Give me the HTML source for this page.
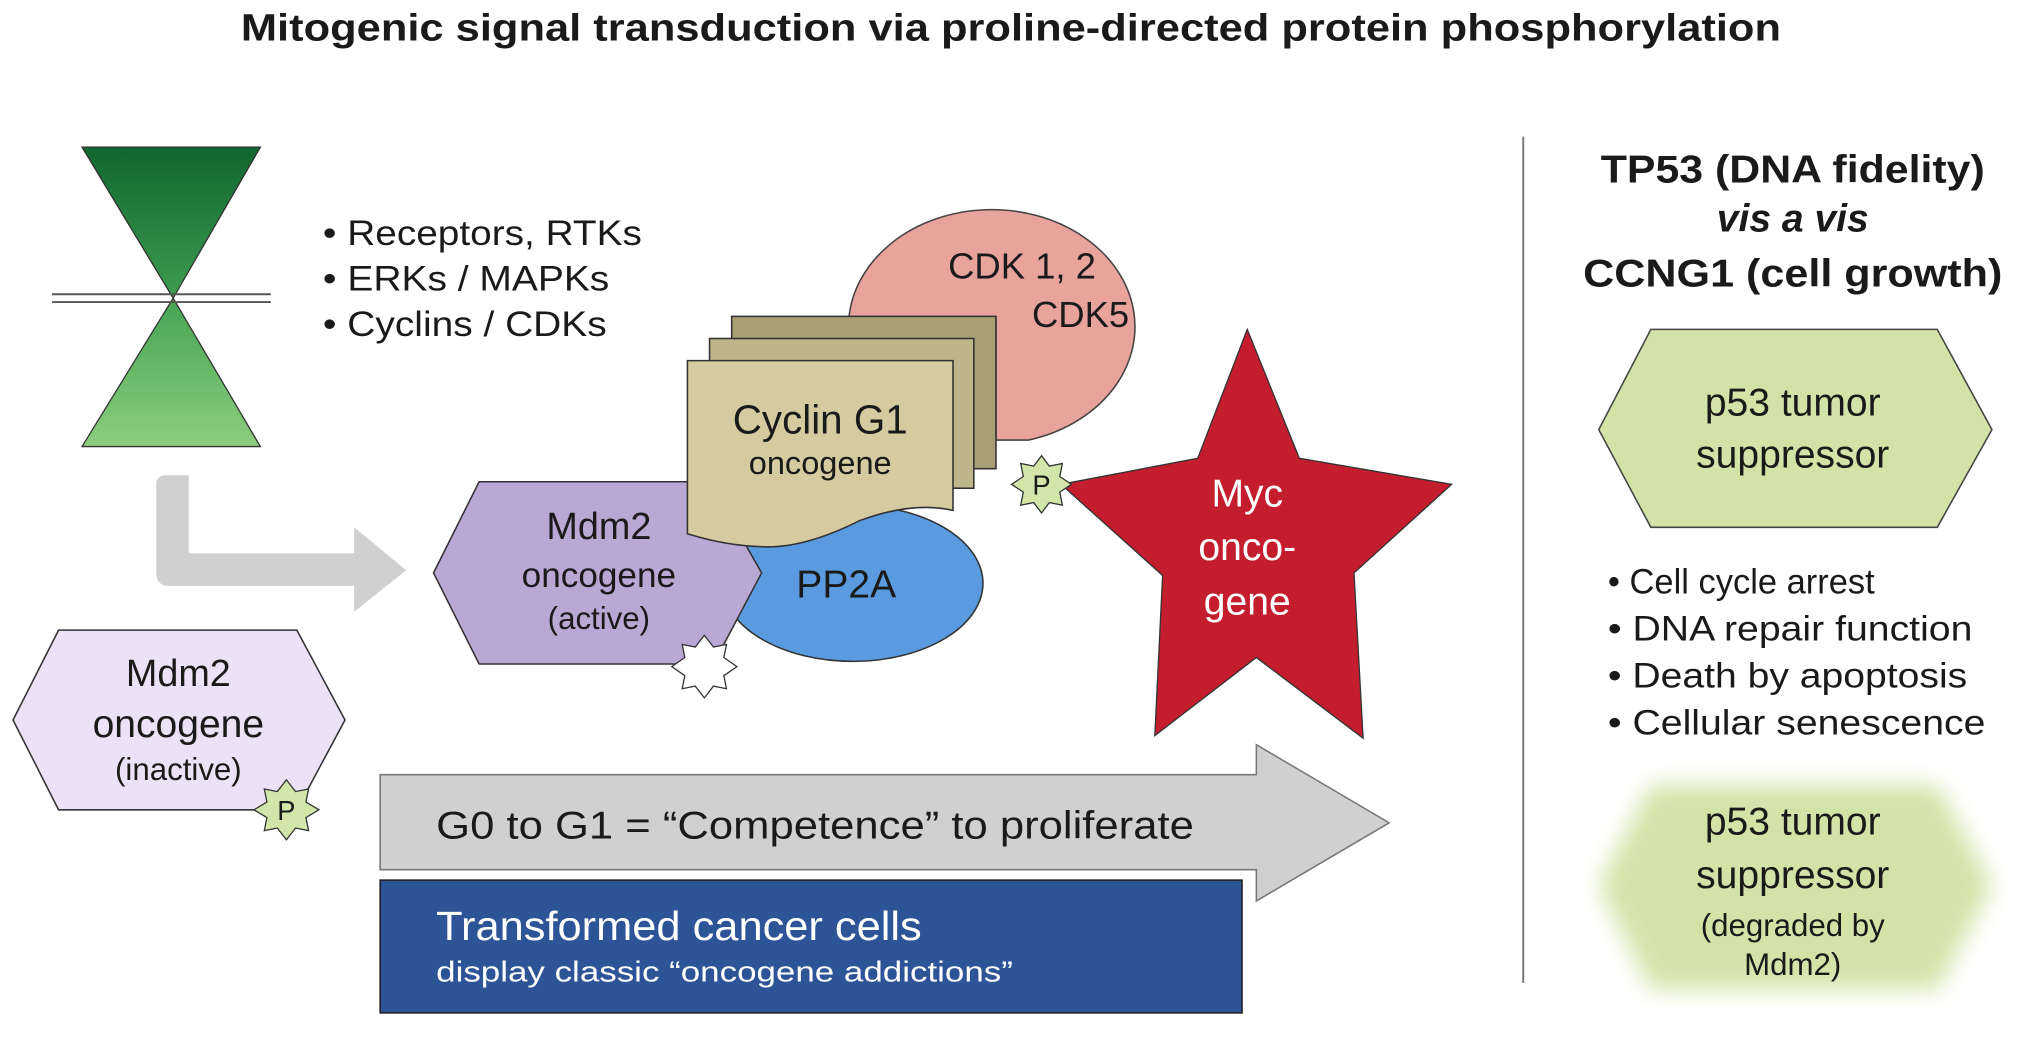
<!DOCTYPE html>
<html><head><meta charset="utf-8"><style>
html,body{margin:0;padding:0;background:#fff}
svg{display:block}
text{font-family:"Liberation Sans",Arial,sans-serif;fill:#1a1a1a}
</style></head><body>
<svg width="2031" height="1037" viewBox="0 0 1560 796.5" preserveAspectRatio="none" xmlns="http://www.w3.org/2000/svg">
<defs>
<linearGradient id="g1" x1="0" y1="0" x2="0" y2="1"><stop offset="0" stop-color="#0f6630"/><stop offset="1" stop-color="#3e9c4f"/></linearGradient>
<linearGradient id="g2" x1="0" y1="0" x2="0" y2="1"><stop offset="0" stop-color="#45a553"/><stop offset="1" stop-color="#8ccd7e"/></linearGradient>
<filter id="blur" x="-20%" y="-20%" width="140%" height="140%"><feGaussianBlur stdDeviation="9"/></filter>
</defs>
<text x="185" y="31" font-size="29" font-weight="bold" textLength="1183" lengthAdjust="spacingAndGlyphs">Mitogenic signal transduction via proline-directed protein phosphorylation</text>

<polygon points="63,113 200,113 133,229" fill="url(#g1)" stroke="#333" stroke-width="1"/>
<polygon points="133,229 200,343 63,343" fill="url(#g2)" stroke="#333" stroke-width="1"/>
<line x1="40" y1="226" x2="208" y2="226" stroke="#555" stroke-width="1.5"/>
<line x1="40" y1="232" x2="208" y2="232" stroke="#555" stroke-width="1.5"/>

<g font-size="27"><text x="248" y="188" textLength="245" lengthAdjust="spacingAndGlyphs">• Receptors, RTKs</text><text x="248" y="223" textLength="220" lengthAdjust="spacingAndGlyphs">• ERKs / MAPKs</text><text x="248" y="258" textLength="218" lengthAdjust="spacingAndGlyphs">• Cyclins / CDKs</text></g>

<path d="M120,372 Q120,365 128,365 L145,365 L145,425 L272,425 L272,405 L312,438 L272,470 L272,450 L130,450 Q120,450 120,440 Z" fill="#d0d0d0"/>

<path d="M652,245 A110,90 0 1 1 790,338 L765,338 L765,245 Z" fill="#e8a39d" stroke="#444" stroke-width="1.2"/>
<text x="785" y="214" font-size="28" text-anchor="middle">CDK 1, 2</text>
<text x="830" y="251" font-size="28" text-anchor="middle">CDK5</text>

<ellipse cx="655" cy="448" rx="100" ry="60" fill="#5a9be0" stroke="#333" stroke-width="1.2"/>
<text x="650" y="459" font-size="30" text-anchor="middle">PP2A</text>

<polygon points="333,440 368,370 545,370 585,440 548,510 368,510" fill="#b9a7d4" stroke="#333" stroke-width="1.2"/>
<text x="460" y="414" font-size="29" text-anchor="middle">Mdm2</text>
<text x="460" y="451" font-size="27" text-anchor="middle">oncogene</text>
<text x="460" y="483" font-size="24" text-anchor="middle">(active)</text>
<polygon points="541,488 548,497 558,495 556,505 566,512 556,519 558,529 548,527 541,536 534,527 524,529 526,519 516,512 526,505 524,495 534,497" fill="#fff" stroke="#333" stroke-width="1"/>

<rect x="562" y="243" width="203" height="117" fill="#a89f74" stroke="#333" stroke-width="1.2"/>
<rect x="545" y="260" width="203" height="115" fill="#bfb58b" stroke="#333" stroke-width="1.2"/>
<path d="M528,277 L732,277 L732,392 Q700,385 660,400 Q620,420 590,420 Q560,420 528,410 Z" fill="#d5caa0" stroke="#333" stroke-width="1.2"/>
<text x="630" y="333" font-size="31" text-anchor="middle">Cyclin G1</text>
<text x="630" y="364" font-size="25" text-anchor="middle">oncogene</text>

<polygon points="958,253 998,352 1115,372 1040,440 1047,567 965,505 887,565 893,442 815,372 920,352" fill="#c41e2e" stroke="#333" stroke-width="1"/>
<text x="958" y="389" font-size="30" text-anchor="middle" style="fill:#fff">Myc</text>
<text x="958" y="430" font-size="30" text-anchor="middle" style="fill:#fff">onco-</text>
<text x="958" y="472" font-size="30" text-anchor="middle" style="fill:#fff">gene</text>

<polygon points="800,350 806,358 816,356 814,366 823,372 814,378 816,388 806,386 800,394 794,386 784,388 786,378 777,372 786,366 784,356 794,358" fill="#d3e6a9" stroke="#333" stroke-width="1"/>
<text x="800" y="380" font-size="21" text-anchor="middle">P</text>

<polygon points="10,553 45,484 228,484 265,553 228,622 45,622" fill="#ece2f7" stroke="#333" stroke-width="1.2"/>
<text x="137" y="527" font-size="29" text-anchor="middle">Mdm2</text>
<text x="137" y="566" font-size="30" text-anchor="middle">oncogene</text>
<text x="137" y="599" font-size="24" text-anchor="middle">(inactive)</text>
<polygon points="220,599 227,608 237,606 235,616 245,622 235,628 237,638 227,636 220,645 213,636 203,638 205,628 195,622 205,616 203,606 213,608" fill="#d3e6a9" stroke="#333" stroke-width="1"/>
<text x="220" y="630" font-size="21" text-anchor="middle">P</text>

<polygon points="292,595 965,595 965,572 1067,632 965,692 965,668 292,668" fill="#d0d0d0" stroke="#777" stroke-width="1.2"/>
<text x="335" y="644" font-size="30" textLength="582" lengthAdjust="spacingAndGlyphs">G0 to G1 = “Competence” to proliferate</text>

<rect x="292" y="676" width="662" height="102" fill="#2c5497" stroke="#222" stroke-width="1.2"/>
<text x="335" y="722" font-size="31" textLength="373" lengthAdjust="spacingAndGlyphs" style="fill:#fff">Transformed cancer cells</text>
<text x="335" y="754" font-size="22" textLength="443" lengthAdjust="spacingAndGlyphs" style="fill:#fff">display classic “oncogene addictions”</text>

<line x1="1170" y1="105" x2="1170" y2="755" stroke="#777" stroke-width="1.5"/>

<g font-size="30" font-weight="bold" text-anchor="middle">
<text x="1377" y="140" textLength="295" lengthAdjust="spacingAndGlyphs">TP53 (DNA fidelity)</text>
<text x="1377" y="178" font-style="italic">vis a vis</text>
<text x="1377" y="220" textLength="322" lengthAdjust="spacingAndGlyphs">CCNG1 (cell growth)</text>
</g>

<polygon points="1228,330 1268,253 1488,253 1530,330 1488,405 1268,405" fill="#d3e3a7" stroke="#444" stroke-width="1.2"/>
<text x="1377" y="319" font-size="30" text-anchor="middle">p53 tumor</text>
<text x="1377" y="359" font-size="30" text-anchor="middle">suppressor</text>

<g font-size="27"><text x="1235" y="456" textLength="205" lengthAdjust="spacingAndGlyphs">• Cell cycle arrest</text><text x="1235" y="492" textLength="280" lengthAdjust="spacingAndGlyphs">• DNA repair function</text><text x="1235" y="528" textLength="276" lengthAdjust="spacingAndGlyphs">• Death by apoptosis</text><text x="1235" y="564" textLength="290" lengthAdjust="spacingAndGlyphs">• Cellular senescence</text></g>

<polygon points="1228,680 1268,603 1488,603 1530,680 1488,760 1268,760" fill="#d3e3a7" filter="url(#blur)"/>
<text x="1377" y="641" font-size="30" text-anchor="middle">p53 tumor</text>
<text x="1377" y="682" font-size="30" text-anchor="middle">suppressor</text>
<text x="1377" y="719" font-size="24" text-anchor="middle">(degraded by</text>
<text x="1377" y="749" font-size="24" text-anchor="middle">Mdm2)</text>
</svg>
</body></html>
